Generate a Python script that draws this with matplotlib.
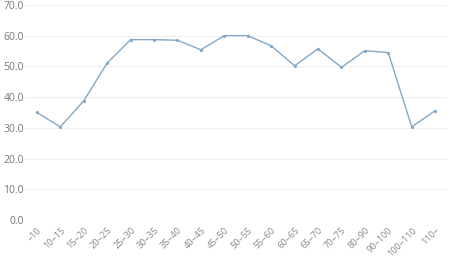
import matplotlib
matplotlib.use("Agg")
import matplotlib.pyplot as plt

# age ranges and values
categories = ["~10", "10~15", "15~20", "20~25", "25~30", "30~35", "35~40",
              "40~45", "45~50", "50~55", "55~60", "60~65", "65~70", "70~75",
              "80~90", "90~100", "100~110", "110~"]
values = [35.0, 30.3, 38.8, 51.1, 58.7, 58.7, 58.5, 55.4, 60.0, 60.0,
          56.7, 50.2, 55.7, 49.7, 55.1, 54.5, 30.3, 35.6]
y_ticks = [0, 10, 20, 30, 40, 50, 60, 70]

plt.rcParams['font.family'] = ['Open Sans', 'DejaVu Sans']

fig = plt.figure(figsize=(4.5, 2.58), dpi=100)
ax = fig.add_axes([0.056, 0.147, 0.937, 0.834])

x = range(len(categories))
ax.plot(x, values, color='#84a8c5', linewidth=1.0, marker='o', markersize=1.3)

ax.set_xlim(-0.5, len(categories) - 0.5)
ax.set_ylim(0, 70)
ax.set_yticks(y_ticks)
ax.set_yticklabels([f"{v:.1f}" for v in y_ticks])
ax.set_xticks(list(x))
ax.set_xticklabels(categories, rotation=45, ha='right', rotation_mode='anchor')

ax.grid(axis='y', color='#efefef', linewidth=0.8)
ax.set_axisbelow(True)
for s in ax.spines.values():
    s.set_visible(False)
ax.tick_params(axis='y', length=0, labelsize=7.5, colors='#777777', pad=1)
ax.tick_params(axis='x', length=0, labelsize=6.6, colors='#888888', pad=4)

fig.savefig("out.png", dpi=100)
